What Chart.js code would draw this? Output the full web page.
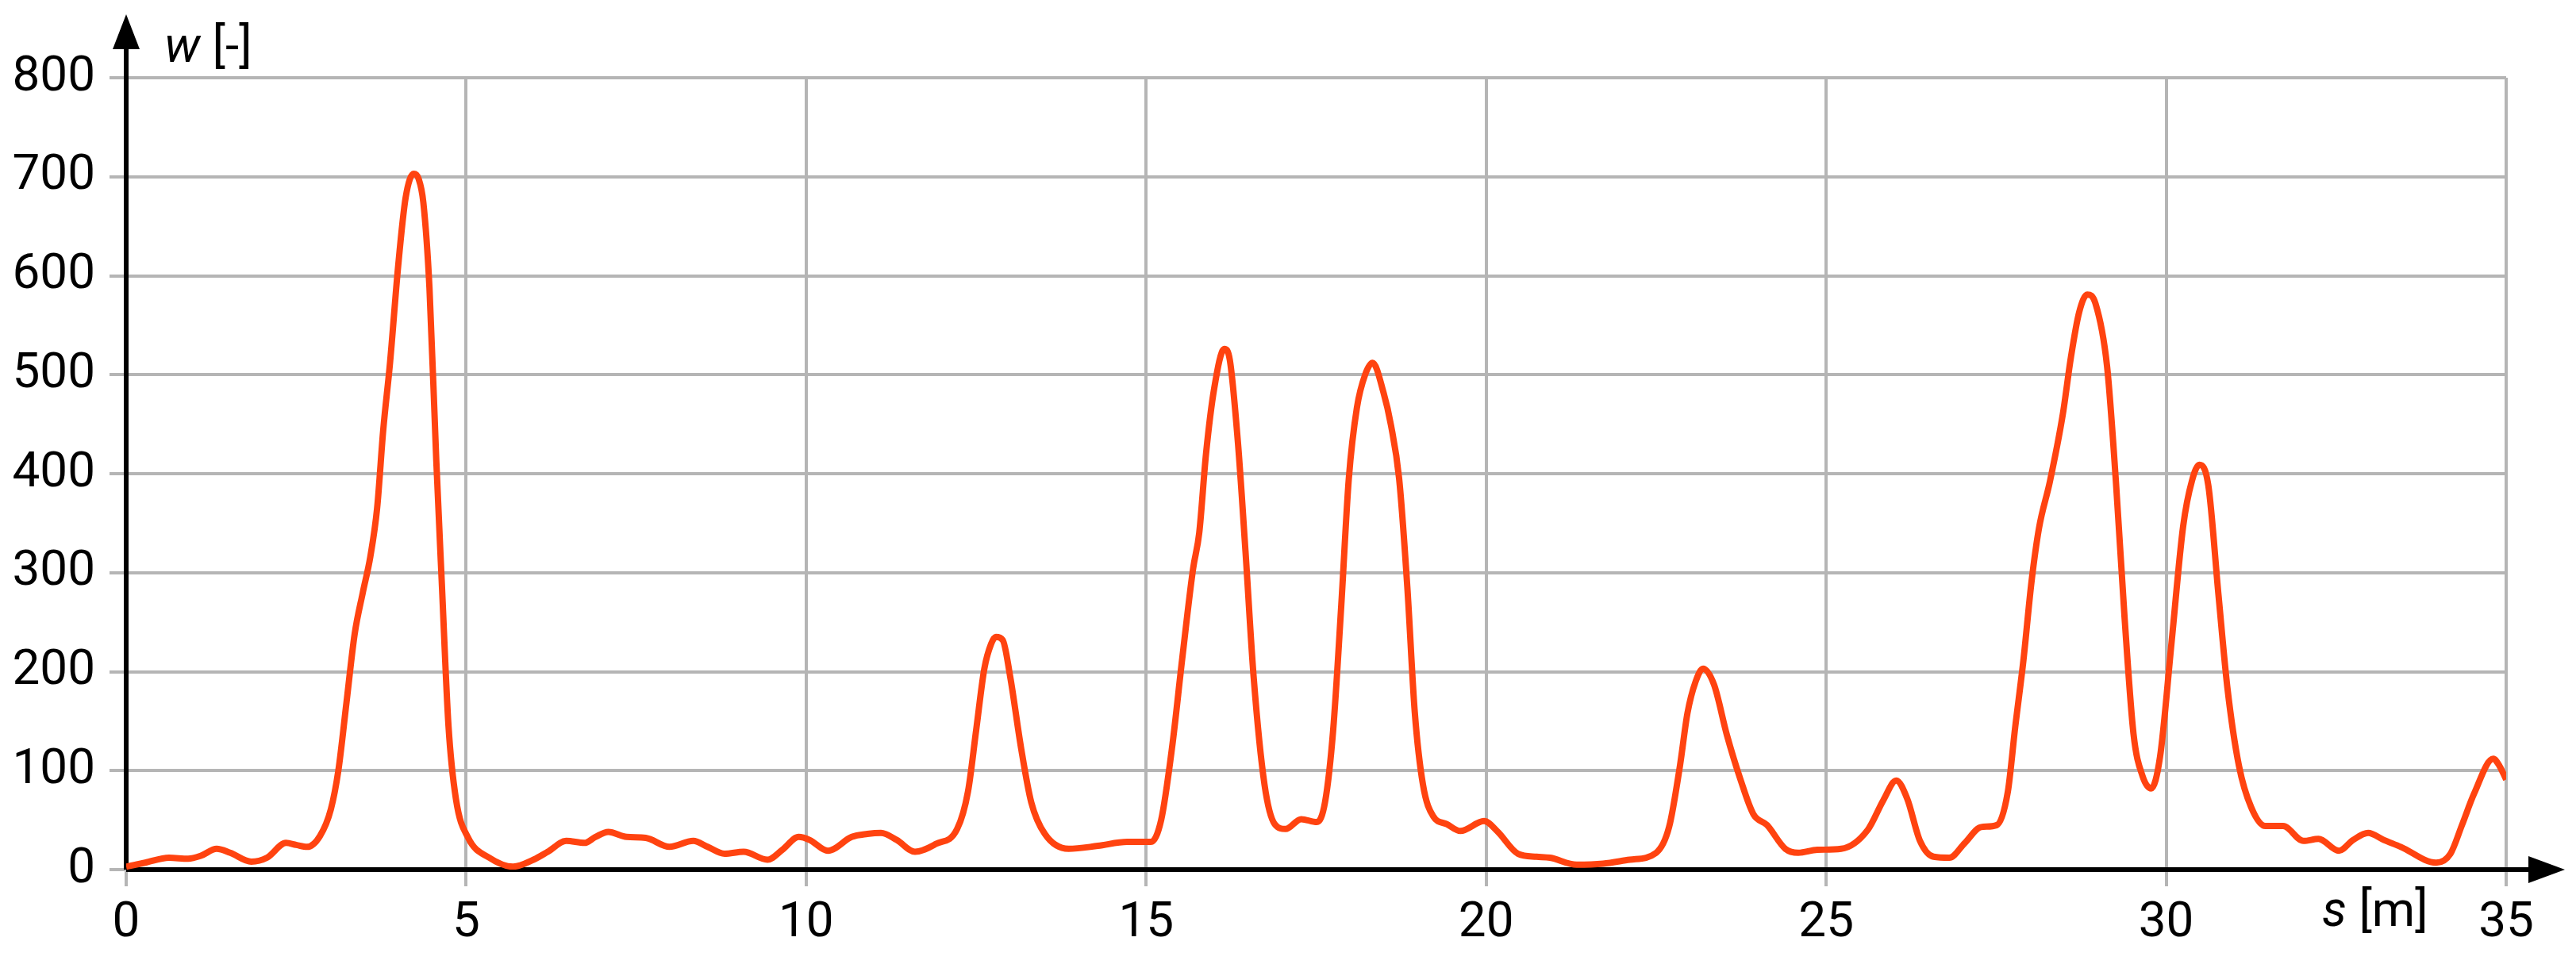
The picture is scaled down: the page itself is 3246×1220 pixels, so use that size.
<!DOCTYPE html>
<html>
<head>
<meta charset="utf-8">
<script src="https://cdn.jsdelivr.net/npm/chart.js@4.4.1/dist/chart.umd.min.js"></script>
<style>
  html, body { margin: 0; padding: 0; background: #fff; }
  #wrap { width: 3246px; height: 1220px; }
</style>
</head>
<body>
<div id="wrap"><canvas id="chart" width="3246" height="1220"></canvas></div>
<script>
// dane: s [m] i w [-]
const sPositions = [
  0.0, 0.28, 0.63, 0.91, 1.1, 1.33, 1.53, 1.84, 2.07, 2.35, 2.5, 2.66, 2.85,
  3.01, 3.12, 3.24, 3.36, 3.48, 3.59, 3.69, 3.78, 3.88, 4.0, 4.11, 4.23, 4.3,
  4.37, 4.46, 4.56, 4.64, 4.74, 4.85, 5.03, 5.34, 5.69, 5.99, 6.2, 6.47, 6.74,
  6.9, 7.09, 7.36, 7.64, 7.99, 8.34, 8.55, 8.8, 9.08, 9.43, 9.65, 9.89, 10.05,
  10.32, 10.67, 10.9, 11.1, 11.33, 11.6, 11.91, 12.22, 12.38, 12.5, 12.62,
  12.72, 12.79, 12.89, 13.0, 13.16, 13.31, 13.51, 13.86, 14.29, 14.72, 15.07,
  15.22, 15.38, 15.53, 15.69, 15.78, 15.88, 16.0, 16.15, 16.23, 16.35, 16.46,
  16.58, 16.74, 16.89, 17.05, 17.28, 17.51, 17.63, 17.75, 17.87, 17.98, 18.1,
  18.22, 18.33, 18.49, 18.6, 18.72, 18.84, 18.95, 19.07, 19.22, 19.42, 19.62,
  19.97, 20.16, 20.47, 20.74, 20.94, 21.33, 21.72, 22.11, 22.5, 22.69, 22.85,
  22.96, 23.08, 23.19, 23.35, 23.54, 23.74, 23.93, 24.13, 24.4, 24.59, 24.87,
  25.22, 25.61, 25.84, 26.03, 26.19, 26.38, 26.58, 26.81, 27.04, 27.28, 27.51,
  27.67, 27.78, 27.9, 28.02, 28.13, 28.29, 28.48, 28.6, 28.72, 28.84, 28.96,
  29.13, 29.26, 29.39, 29.52, 29.65, 29.78, 29.91, 30.08, 30.25, 30.38, 30.49,
  30.62, 30.77, 30.9, 31.07, 31.25, 31.46, 31.72, 32.02, 32.24, 32.54, 32.75,
  32.97, 33.2, 33.45, 33.97, 34.18, 34.35, 34.53, 34.81, 34.9, 35.0
];
const wValues = [
  3, 7, 12, 11, 14, 21, 17, 8, 12, 27, 25, 23, 34,
  61, 100, 169, 238, 280, 316, 365, 444, 512, 610, 679, 703, 698,
  674, 588, 414, 292, 145, 71, 32, 12, 3, 10, 18, 29, 27,
  33, 38, 33, 32, 23, 29, 23, 16, 18, 10, 20, 33, 30,
  19, 33, 36, 37, 30, 18, 26, 41, 79, 141, 203,
  228, 235, 232, 195, 123, 68, 36, 21, 24, 28, 28,
  50, 123, 213, 304, 340, 420, 486, 526, 515, 431, 322,
  195, 86, 46, 41, 51, 48, 68, 141, 268, 395, 467,
  500, 512, 482, 449, 395, 286, 159, 86, 54, 46, 39,
  49, 39, 16, 13, 12, 5, 6, 10, 17, 43, 105,
  158, 190, 203, 187, 136, 91, 56, 45, 21, 17, 20,
  21, 40, 70, 90, 72, 29, 13, 12, 27, 43, 45,
  78, 144, 211, 291, 345, 392, 460, 518, 563, 581, 572,
  509, 393, 253, 137, 95, 82, 114, 230, 347, 393, 409,
  388, 277, 184, 105, 63, 44, 44, 29, 31, 19, 30,
  37, 30, 23, 7, 16, 45, 77, 112, 105, 91
];
const xTicks = [0, 5, 10, 15, 20, 25, 30, 35];
const yTicks = [0, 100, 200, 300, 400, 500, 600, 700, 800];

document.addEventListener('DOMContentLoaded', function () {
  const FONT = '"Liberation Sans Narrow", Roboto';
  const GRID = '#b5b5b5';

  // osie ze strzałkami i opisy osi
  const axisArrows = {
    id: 'axisArrows',
    beforeDatasetsDraw(chart) {
      const { ctx, chartArea, scales } = chart;
      const x0 = scales.x.getPixelForValue(0);
      const y0 = scales.y.getPixelForValue(0);
      const yTip = chartArea.top - 80;
      const xTip = chartArea.right + 74;
      ctx.save();
      ctx.strokeStyle = '#000';
      ctx.fillStyle = '#000';
      ctx.lineWidth = 6;
      ctx.beginPath();
      ctx.moveTo(x0, y0);
      ctx.lineTo(x0, yTip + 30);
      ctx.moveTo(x0, y0);
      ctx.lineTo(xTip - 30, y0);
      ctx.stroke();
      // grot osi pionowej
      ctx.beginPath();
      ctx.moveTo(x0, yTip);
      ctx.lineTo(x0 - 17, yTip + 44);
      ctx.lineTo(x0 + 17, yTip + 44);
      ctx.closePath();
      ctx.fill();
      // grot osi poziomej
      ctx.beginPath();
      ctx.moveTo(xTip, y0);
      ctx.lineTo(xTip - 46, y0 - 17);
      ctx.lineTo(xTip - 46, y0 + 17);
      ctx.closePath();
      ctx.fill();
      ctx.restore();
    },
    afterDraw(chart) {
      const { ctx } = chart;
      ctx.save();
      ctx.fillStyle = '#000';
      ctx.textBaseline = 'alphabetic';
      ctx.textAlign = 'left';
      drawLabel(ctx, 'w', ' [-]', 207, 78);
      drawLabel(ctx, 's', ' [m]', 2926, 1167);
      ctx.restore();
    }
  };

  function drawLabel(ctx, sym, unit, x, y) {
    ctx.font = 'italic 62px ' + FONT;
    ctx.fillText(sym, x, y);
    const w = ctx.measureText(sym).width;
    ctx.font = '62px ' + FONT;
    ctx.fillText(unit, x + w, y);
  }

  const points = sPositions.map((s, i) => ({ x: s, y: wValues[i] }));

  const config = {
    type: 'line',
    data: {
      datasets: [{
        data: points,
        borderColor: '#ff4310',
        borderWidth: 8,
        pointRadius: 0,
        cubicInterpolationMode: 'monotone',
        fill: false
      }]
    },
    options: {
      responsive: false,
      animation: false,
      devicePixelRatio: 1,
      layout: { padding: { left: 0, top: 98, right: 88, bottom: 0 } },
      plugins: {
        legend: { display: false },
        tooltip: { enabled: false }
      },
      scales: {
        x: {
          type: 'linear',
          min: 0,
          max: 35,
          afterBuildTicks: (scale) => { scale.ticks = xTicks.map(v => ({ value: v })); },
          afterFit: (scale) => { scale.height = 124; },
          border: { display: false },
          grid: { color: GRID, lineWidth: 4, tickLength: 21, tickColor: GRID },
          ticks: {
            color: '#000',
            padding: 10,
            maxRotation: 0,
            font: { family: FONT, size: 62 }
          }
        },
        y: {
          min: 0,
          max: 800,
          afterBuildTicks: (scale) => { scale.ticks = yTicks.map(v => ({ value: v })); },
          afterFit: (scale) => { scale.width = 159; },
          border: { display: false },
          grid: { color: GRID, lineWidth: 4, tickLength: 21, tickColor: GRID },
          ticks: {
            color: '#000',
            padding: 18,
            font: { family: FONT, size: 62 }
          }
        }
      }
    },
    plugins: [axisArrows]
  };

  new Chart(document.getElementById('chart'), config);
});
</script>
</body>
</html>
